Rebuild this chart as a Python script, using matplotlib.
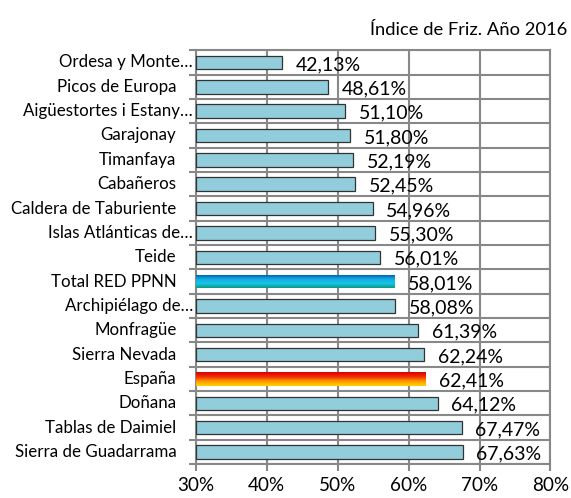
import numpy as np
import matplotlib.pyplot as plt
from matplotlib.colors import LinearSegmentedColormap

plt.rcParams['font.family'] = ['Lato', 'DejaVu Sans']

# Data (top to bottom as in the chart)
parques = ['Ordesa y Monte…', 'Picos de Europa', 'Aigüestortes i Estany…', 'Garajonay',
           'Timanfaya', 'Cabañeros', 'Caldera de Taburiente', 'Islas Atlánticas de…',
           'Teide', 'Total RED PPNN', 'Archipiélago de…', 'Monfragüe', 'Sierra Nevada',
           'España', 'Doñana', 'Tablas de Daimiel', 'Sierra de Guadarrama']
valores = [42.13, 48.61, 51.10, 51.80, 52.19, 52.45, 54.96, 55.30, 56.01, 58.01,
           58.08, 61.39, 62.24, 62.41, 64.12, 67.47, 67.63]
xticks = [30, 40, 50, 60, 70, 80]

fig = plt.figure(figsize=(5.71, 4.98), dpi=100)
ax = fig.add_axes([0.343, 0.068, 0.621, 0.831])

n = len(parques)
y = np.arange(n)
bar_h = 0.55
base = 30

grads = {
    'Total RED PPNN': LinearSegmentedColormap.from_list(
        'azul', ['#0a9a86', '#18c6e6', '#10a8e0', '#0050a8']),
    'España': LinearSegmentedColormap.from_list(
        'rojo', ['#ffd200', '#ff9a00', '#f03000', '#d80000']),
}

bars = ax.barh(y, np.array(valores) - base, left=base, height=bar_h,
               color='#92cddc', edgecolor='#333333', linewidth=0.9, zorder=3)

for b, nombre in zip(bars, parques):
    if nombre in grads:
        x0, y0 = b.get_x(), b.get_y()
        w, h = b.get_width(), b.get_height()
        grad = np.linspace(0, 1, 64).reshape(-1, 1)
        im = ax.imshow(grad, cmap=grads[nombre], aspect='auto',
                       extent=(x0, x0 + w, y0, y0 + h), origin='upper', zorder=3)
        im.set_clip_path(b)
        b.set_facecolor('none')
        b.set_edgecolor('none')

# value labels
for yi, v in zip(y, valores):
    ax.text(v + 1.9, yi + 0.08, f'{v:.2f}%'.replace('.', ','), va='center', ha='left',
            fontsize=14, color='#000000', zorder=4)

# category labels (truncated ones sit closer to the axis)
for yi, nombre in zip(y, parques):
    dx = -2 if nombre.endswith('…') else -14
    ax.annotate(nombre, xy=(0, yi), xycoords=('axes fraction', 'data'),
                xytext=(dx, 0), textcoords='offset points',
                ha='right', va='center', fontsize=12.2)

ax.set_xlim(30, 80)
ax.set_ylim(n - 0.5, -0.5)
ax.set_xticks(xticks)
ax.set_xticklabels([f'{t}%' for t in xticks], fontsize=13.6)
ax.set_yticks(y)
ax.set_yticklabels([])
ax.set_yticks(np.arange(n + 1) - 0.5, minor=True)
ax.tick_params(axis='y', which='major', length=0)
ax.tick_params(axis='y', which='minor', length=5, color='#888888', width=1.5)
ax.tick_params(axis='x', which='major', length=5, color='#888888', width=1.5, pad=4)

ax.grid(axis='x', which='major', color='#888888', linewidth=1.5, zorder=0)
ax.grid(axis='y', which='minor', color='#888888', linewidth=1.5, zorder=0)
ax.set_axisbelow(True)
for s in ax.spines.values():
    s.set_color('#888888')
    s.set_linewidth(1.5)

fig.text(0.993, 0.94, 'Índice de Friz. Año 2016', ha='right', va='center', fontsize=13.2)

fig.savefig('out.png', dpi=100)
